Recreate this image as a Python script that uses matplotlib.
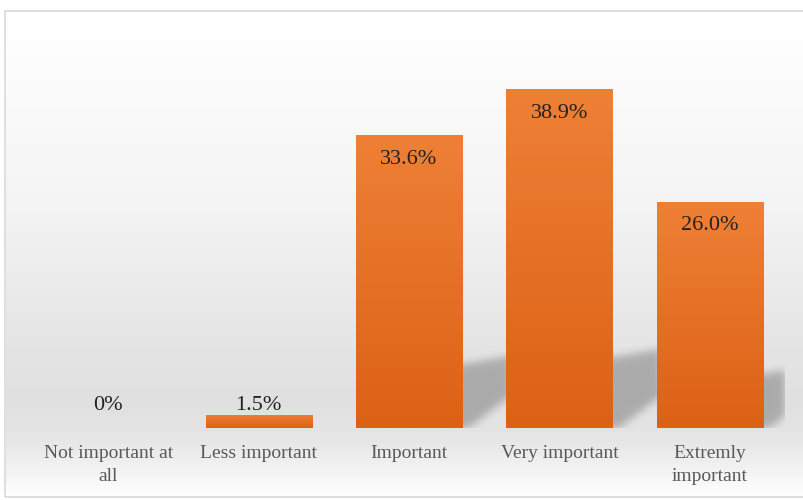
import numpy as np
import matplotlib
matplotlib.use("Agg")
import matplotlib.pyplot as plt
from matplotlib.patches import Rectangle
from matplotlib.path import Path
from matplotlib.colors import LinearSegmentedColormap

categories = ["Not important at\nall", "Less important", "Important",
              "Very important", "Extremly\nimportant"]
values = [0, 1.5, 33.6, 38.9, 26.0]
value_labels = ["0%", "1.5%", "33.6%", "38.9%", "26.0%"]

plt.rcParams["font.family"] = ["Liberation Serif", "DejaVu Serif"]

W_PX, H_PX = 804, 500
fig = plt.figure(figsize=(W_PX / 100, H_PX / 100), dpi=100)

# soft grey background with a white frame around the chart area
bg = fig.add_axes([0, 0, 1, 1], zorder=0)
bg.axis("off")
rows = np.arange(H_PX)
shade = np.interp(rows, [0, 11, 200, 330, 400, 440, 497, 500],
                  [1.0, 1.0, 0.955, 0.90, 0.875, 0.90, 0.995, 1.0])
bg_img = np.repeat(shade[:, None], W_PX, axis=1)
bg_img[:11, :] = 1.0
bg_img[497:, :] = 1.0
bg_img[:, :6] = 1.0
bg.imshow(bg_img, cmap="gray", vmin=0, vmax=1, extent=[0, 1, 0, 1],
          aspect="auto", origin="upper", interpolation="bilinear")
bg.add_patch(Rectangle((5.5 / W_PX, 3 / H_PX), 1.0, 486 / H_PX,
                       transform=bg.transAxes, fill=False,
                       edgecolor="#d9d9d9", lw=1.2, clip_on=False))
bg.set_xlim(0, 1)
bg.set_ylim(0, 1)

ax_l, ax_b, ax_w, ax_h = 33, 72, 752, 392
ax = fig.add_axes([ax_l / W_PX, ax_b / H_PX, ax_w / W_PX, ax_h / H_PX], zorder=1)
ax.patch.set_alpha(0)
x = np.arange(len(categories))
xmin, xmax, ymax = -0.5, 4.5, 45
bar_w = 0.705

# blurred perspective shadow falling to the right of each tall bar
px_per_x = ax_w / (xmax - xmin)
px_per_y = ax_h / ymax
U, V = np.meshgrid(np.arange(ax_w) + 0.5, (np.arange(ax_h) + 0.5)[::-1])
pts = np.column_stack([U.ravel(), V.ravel()])
mask = np.zeros(U.size, dtype=bool)
dx = 45
for xi, v in zip(x, values):
    h = v * px_per_y
    if h < 40:
        continue
    xr = (xi + bar_w / 2 - xmin) * px_per_x
    top = 0.15 * h + 20
    quad = Path([(xr - 12, 0), (xr + 7, 0), (xr + dx, 30), (xr + dx + 4, 30),
                 (xr + dx + 4, top + 8), (xr, top), (xr - 12, top), (xr - 12, 0)])
    mask |= quad.contains_points(pts)
mask = mask.reshape(U.shape)
sig = 4
k = np.exp(-0.5 * (np.arange(-3 * sig, 3 * sig + 1) / sig) ** 2)
k /= k.sum()
blur = mask.astype(float)
blur = np.apply_along_axis(lambda r: np.convolve(r, k, mode="same"), 1, blur)
blur = np.apply_along_axis(lambda c: np.convolve(c, k, mode="same"), 0, blur)
shadow = np.zeros((ax_h, ax_w, 4))
shadow[..., 3] = 0.24 * blur
ax.imshow(shadow, extent=[xmin, xmax, 0, ymax], aspect="auto",
          origin="upper", zorder=2, interpolation="bilinear")

# bars with a vertical orange gradient
orange = LinearSegmentedColormap.from_list("orange", ["#dc6115", "#ee8036"])
bars = ax.bar(x, values, width=bar_w, color="#e56f24", zorder=3, linewidth=0)
grad = np.linspace(1, 0, 256)[:, None]
for b, v in zip(bars, values):
    if v <= 0:
        continue
    im = ax.imshow(grad, extent=[b.get_x(), b.get_x() + b.get_width(), 0, v],
                   cmap=orange, vmin=0, vmax=1, aspect="auto", zorder=4,
                   origin="upper")
    im.set_clip_path(b)

for xi, v, lab in zip(x, values, value_labels):
    if v > 5:
        ax.annotate(lab, (xi, v), xytext=(0, -17.3), textcoords="offset points",
                    ha="center", va="center", fontsize=16, color="#222222",
                    zorder=5)
    else:
        ax.text(xi, 23 / px_per_y, lab, ha="center", va="center",
                fontsize=16, color="#222222", zorder=5)

ax.set_xlim(xmin, xmax)
ax.set_ylim(0, ymax)
ax.set_yticks([])
ax.set_xticks(x)
ax.set_xticklabels(categories, fontsize=14, color="#595959",
                   multialignment="center", linespacing=1.45)
ax.tick_params(axis="x", length=0, pad=12.5)
for sp in ax.spines.values():
    sp.set_visible(False)

fig.savefig("out.png", dpi=100)
